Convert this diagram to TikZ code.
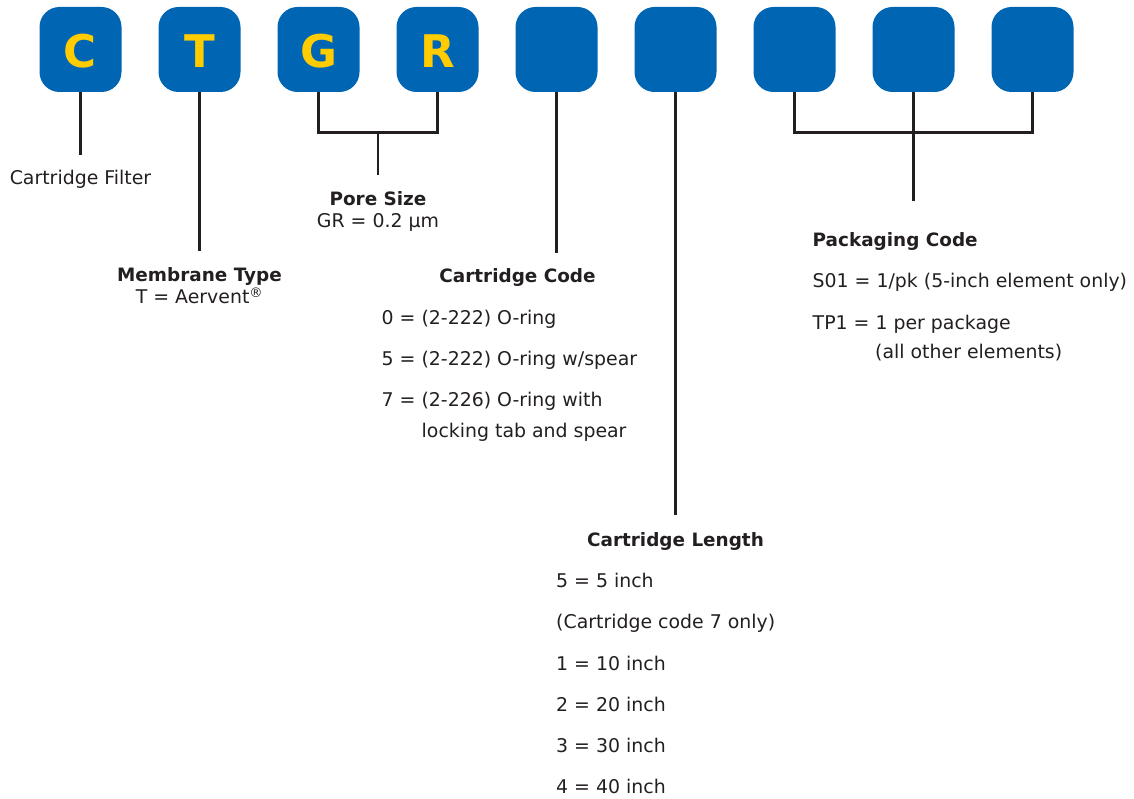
\documentclass[tikz,border=0pt]{standalone}
\usepackage{fontspec}
\setmainfont{DejaVu Sans}

\definecolor{codeblue}{HTML}{0066B3}
\definecolor{codegold}{HTML}{FFCC00}
\definecolor{ink}{HTML}{231F20}

\tikzset{
    codebox/.style={fill=codeblue, rounded corners=20pt, minimum width=82pt, minimum height=85pt,
        inner sep=0pt, text=codegold, text height=37pt, text depth=0pt,
        font=\fontsize{45}{45}\selectfont\bfseries},
    wire/.style={draw=ink, line width=2.6pt},
    head/.style={anchor=base, inner sep=0pt, text height=13.5pt, text=ink,
        font=\fontsize{18.4}{22}\selectfont\bfseries},
    note/.style={anchor=base, inner sep=0pt, text height=13.5pt, text=ink,
        font=\fontsize{18.9}{22}\selectfont},
    entry/.style={note, anchor=base west},
}

\begin{document}
\begin{tikzpicture}[x=1pt, y=-1pt]
    \useasboundingbox (0,0) rectangle (1134,799);
    \foreach \i/\l in {1/C, 2/T, 3/G, 4/R, 5/{}, 6/{}, 7/{}, 8/{}, 9/{}}
        \node[codebox] (b\i) at ({80.5+119*(\i-1)}, 49.5) {\l};

    \node[note] (filter) at (80.5,185) {Cartridge Filter};
    \node[head] (membrane) at (199.5,282) {Membrane Type};
    \node[note] (aervent) at (199.5,304) {T = Aervent\textsuperscript{®}};
    \node[head] (pore) at (378,205.5) {Pore Size};
    \node[note] (poreval) at (378,227.5) {GR = 0.2 µm};

    \node[head] (code) at (517.5,282.5) {Cartridge Code};
    \node[entry] (code0) at (381.5,324.5) {0 = (2-222) O-ring};
    \node[entry] (code5) at (381.5,365.5) {5 = (2-222) O-ring w/spear};
    \node[entry] (code7) at (381.5,406) {7 = (2-226) O-ring with};
    \node[entry] (code7b) at (421.5,437) {locking tab and spear};

    \node[head] (length) at (675.5,546) {Cartridge Length};
    \node[entry] (len5) at (556,587.5) {5 = 5 inch};
    \node[entry] (lennote) at (556,628.5) {(Cartridge code 7 only)};
    \node[entry] (len1) at (556,670) {1 = 10 inch};
    \node[entry] (len2) at (556,711) {2 = 20 inch};
    \node[entry] (len3) at (556,752) {3 = 30 inch};
    \node[entry] (len4) at (556,793.5) {4 = 40 inch};

    \node[head, anchor=base west] (pack) at (812.5,247) {Packaging Code};
    \node[entry] (packs) at (812.5,287.5) {S01 = 1/pk (5-inch element only)};
    \node[entry] (packt) at (812.5,330) {TP1 = 1 per package};
    \node[entry] (packtb) at (875,358.5) {(all other elements)};

    \coordinate (pore-join) at (378,132.5);
    \coordinate (pack-join) at (913.5,132.5);
    \coordinate (pack-end) at (913.5,201);

    \draw[wire, shorten >=16pt] (b1.south) -- (filter.north);
    \draw[wire, shorten >=17pt] (b2.south) -- (membrane.north);
    \draw[wire] (b3.south) |- (pore-join) -| (b4.south);
    \draw[wire, shorten >=16.5pt] (pore-join) -- (pore.north);
    \draw[wire, shorten >=16pt] (b5.south) -- (b5.south |- code.north);
    \draw[wire, shorten >=17pt] (b6.south) -- (length.north);
    \draw[wire] (b7.south) |- (pack-join) -| (b9.south);
    \draw[wire] (b8.south) -- (pack-end);
\end{tikzpicture}
\end{document}
